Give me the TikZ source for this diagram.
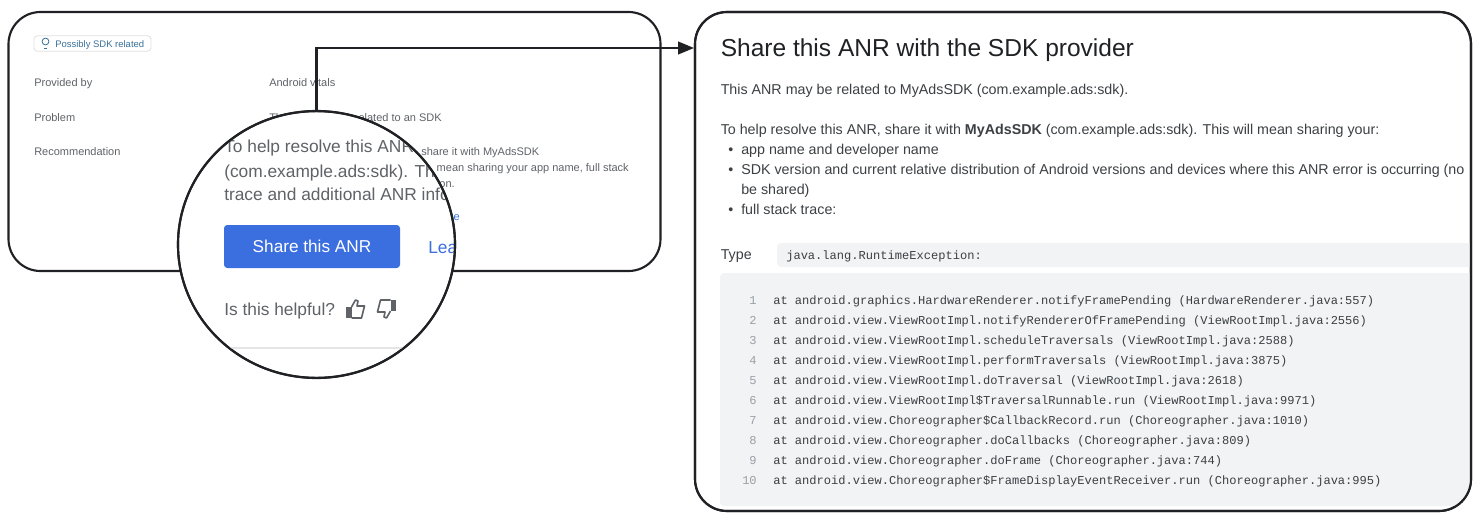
\documentclass[tikz,border=0pt]{standalone}
\usepackage{fontspec}
\setmainfont{Liberation Sans}
\setmonofont{Liberation Mono}
\usetikzlibrary{arrows.meta,shapes.geometric}

\definecolor{inkdark}{HTML}{202124}
\definecolor{inkbody}{HTML}{3C4043}
\definecolor{inkgrey}{HTML}{5F6368}
\definecolor{inklight}{HTML}{9AA0A6}
\definecolor{outline}{HTML}{202124}
\definecolor{codebg}{HTML}{F1F3F5}
\definecolor{btnblue}{HTML}{3B6FE0}
\definecolor{badgeblue}{HTML}{3A7199}

\tikzset{
  card/.style={draw=outline, line width=1.6pt, fill=white, rounded corners=24pt, inner sep=0pt, outer sep=0pt},
  lensshape/.style={ellipse, draw=outline, line width=1.6pt, fill=white, inner sep=0pt, outer sep=0pt, minimum width=207.75pt, minimum height=200pt},
  flow/.style={draw=outline, line width=1.6pt, -{Triangle[length=12pt,width=9.5pt]}},
  bgtext/.style={anchor=base west, inner sep=0pt, text=inkgrey, font=\fontsize{8.25pt}{10pt}\selectfont},
  bgend/.style={bgtext, anchor=base east},
  lenstext/.style={anchor=base west, inner sep=0pt, text=inkgrey, font=\fontsize{13pt}{16pt}\selectfont},
  body/.style={anchor=base west, inner sep=0pt, text=inkbody, font=\fontsize{10.7pt}{12pt}\selectfont},
  code/.style={anchor=base west, inner sep=0pt, text=inkbody, font=\ttfamily\fontsize{9.05pt}{11pt}\selectfont},
  codenum/.style={anchor=base east, inner sep=0pt, text=inklight, font=\ttfamily\fontsize{9.05pt}{11pt}\selectfont},
  pics/thumbicon/.style={code={
    \fill[inkgrey] (-9.5,-2) rectangle (-4,9);
    \draw[inkgrey, line width=1.2pt, line join=round] (-4,-2) -- (0,-9) -- (2.5,-8) -- (1.5,-3) -- (9,-3) -- (6,9) -- (-4,9);
  }},
}

\begin{document}
\begin{tikzpicture}[x=0.75pt, y=-0.75pt]
  \useasboundingbox (0,0) rectangle (1482,525);

  % Left card
  \node[card, minimum width=489pt, minimum height=194.25pt] (summary) at (334.5,141.5) {};

  \node[draw=black!12, line width=0.6pt, rounded corners=2.5pt, minimum width=87.75pt, minimum height=11.5pt, inner sep=0pt] (badge) at (92.5,43.5) {};
  \node[anchor=base west, inner sep=0pt, text=badgeblue, font=\fontsize{7.1pt}{8pt}\selectfont] (badgetext) at (55,47) {Possibly SDK related};
  \draw[badgeblue, line width=0.6pt] (45.5,41.5) circle (3.4);
  \draw[badgeblue, line width=0.8pt] (44,48.5) -- (47,48.5);

  \node[bgtext] (providedlabel) at (34,86) {Provided by};
  \node[bgtext] (problemlabel) at (34,121) {Problem};
  \node[bgtext] (recolabel) at (34,155) {Recommendation};
  \node[bgtext] (providedtext) at (269,86) {Android vitals};
  \node[bgtext] (problemstart) at (269,121) {Th};
  \node[bgend] (problemtext) at (442,121) {elated to an SDK};
  \node[bgtext] (recoline1) at (421,155) {share it with MyAdsSDK};
  \node[bgend] (recoline2) at (629,171) {mean sharing your app name, full stack};
  \node[bgend] (recoline3) at (455,187) {on.};
  \node[bgend, text=btnblue] (recolink) at (460,220) {e};

  % Magnifier
  \node[lensshape] (lens) at (316.5,244.5) {};
  \begin{scope}
    \clip (lens.center) ellipse [x radius=138.5, y radius=133.5];
    \node[lenstext] (lensline1) at (224,152.5) {To help resolve this ANR};
    \node[lenstext] (lensline2) at (224,177) {(com.example.ads:sdk). Th};
    \node[lenstext] (lensline3) at (224,200.5) {trace and additional ANR info};
    \node[fill=btnblue, rounded corners=2.5pt, minimum width=132pt, minimum height=32.25pt, inner sep=0pt, text=white, font=\fontsize{12.9pt}{15pt}\selectfont] (sharebtn) at (312,246.5) {Share this ANR};
    \node[lenstext, text=btnblue] (learnlink) at (428,253) {Lea};
    \node[lenstext] (helpful) at (224,315) {Is this helpful?};
    \pic at (355.5,309) {thumbicon};
    \pic[xscale=-1, yscale=-1] at (386.5,309) {thumbicon};
    \draw[black!10, line width=1pt] (200,348) -- (430,348);
  \end{scope}
  \draw[draw=outline, line width=1.6pt] (lens.center) ellipse [x radius=138.5, y radius=133.5];

  % Right card
  \node[card, minimum width=582pt, minimum height=374.25pt] (detail) at (1083,261.5) {};
  \begin{scope}
    \clip[rounded corners=24pt] (detail.north west) rectangle (detail.south east);
    \fill[codebg, rounded corners=3pt] (777,243) rectangle (1500,267);
    \fill[codebg, rounded corners=3pt] (720,273) rectangle (1500,506);

    \node[anchor=base west, inner sep=0pt, text=inkdark, font=\fontsize{18.4pt}{22pt}\selectfont] (title) at (720.5,56) {Share this ANR with the SDK provider};
    \node[body] (relatedline) at (720.5,94) {This ANR may be related to MyAdsSDK (com.example.ads:sdk).};
    \node[body] (helpline) at (720.5,134) {To help resolve this ANR, share it with \textbf{MyAdsSDK} (com.example.ads:sdk). This will mean sharing your:};
    \node[body] (dot1) at (728,154) {•};
    \node[body] (item1) at (741,154) {app name and developer name};
    \node[body] (dot2) at (728,174) {•};
    \node[body] (item2) at (741,174) {SDK version and current relative distribution of Android versions and devices where this ANR error is occurring (no};
    \node[body] (item2b) at (741,194) {be shared)};
    \node[body] (dot3) at (728,214) {•};
    \node[body] (item3) at (741,214) {full stack trace:};
    \node[body] (typelabel) at (720.5,259) {Type};
    \node[code] (typevalue) at (786,259) {java.lang.RuntimeException:};

    % Stack trace
    \foreach \n/\trace in {
      1/{at android.graphics.HardwareRenderer.notifyFramePending (HardwareRenderer.java:557)},
      2/{at android.view.ViewRootImpl.notifyRendererOfFramePending (ViewRootImpl.java:2556)},
      3/{at android.view.ViewRootImpl.scheduleTraversals (ViewRootImpl.java:2588)},
      4/{at android.view.ViewRootImpl.performTraversals (ViewRootImpl.java:3875)},
      5/{at android.view.ViewRootImpl.doTraversal (ViewRootImpl.java:2618)},
      6/{at android.view.ViewRootImpl\$TraversalRunnable.run (ViewRootImpl.java:9971)},
      7/{at android.view.Choreographer\$CallbackRecord.run (Choreographer.java:1010)},
      8/{at android.view.Choreographer.doCallbacks (Choreographer.java:809)},
      9/{at android.view.Choreographer.doFrame (Choreographer.java:744)},
      10/{at android.view.Choreographer\$FrameDisplayEventReceiver.run (Choreographer.java:995)}} {
      \node[codenum] (num\n) at (757,284+20*\n) {\n};
      \node[code] (trace\n) at (773,284+20*\n) {\trace};
    }
  \end{scope}
  \draw[draw=outline, line width=1.6pt, rounded corners=24pt] (detail.north west) rectangle (detail.south east);

  % Connector
  \coordinate (arrowin) at (694,48);
  \draw[flow] (lens.north) |- (arrowin);
\end{tikzpicture}
\end{document}
